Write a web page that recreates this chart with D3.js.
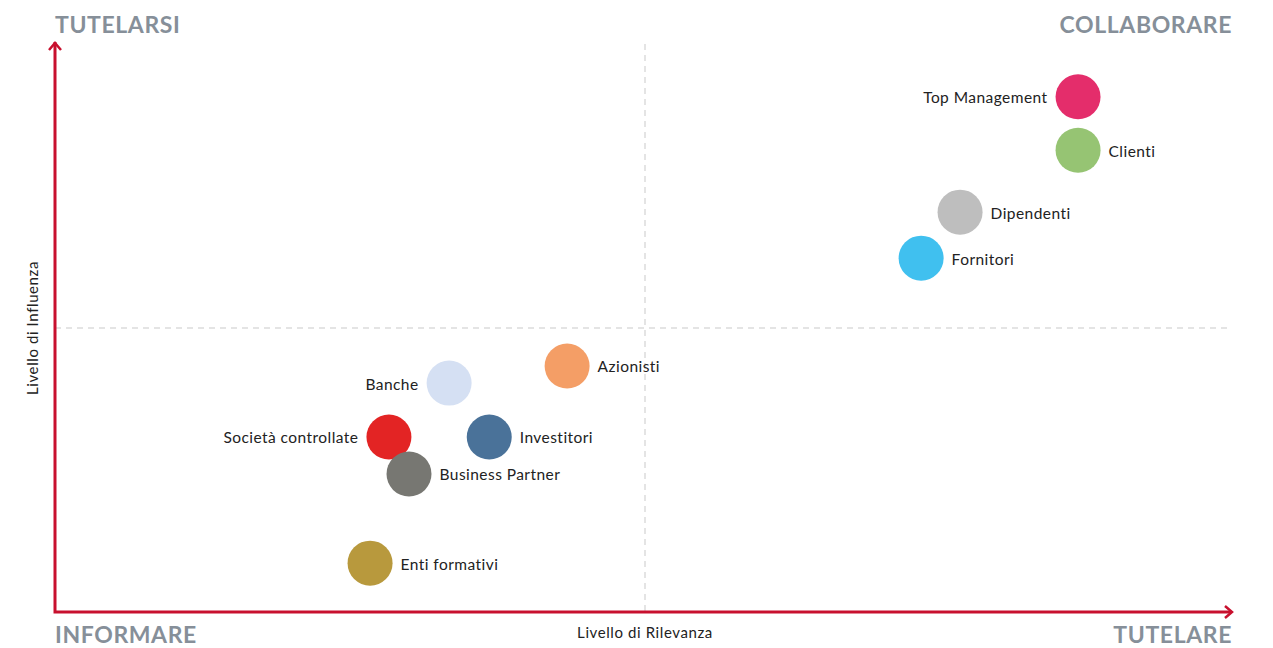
<!DOCTYPE html>
<html>
<head>
<meta charset="utf-8">
<script src="https://cdn.jsdelivr.net/npm/d3@7"></script>
<style>
  html, body { margin: 0; padding: 0; background: #fff; }
  svg { display: block; font-family: Lato, "Open Sans", sans-serif; }
</style>
</head>
<body>
<svg id="chart" width="1273" height="648"></svg>
<script>
// Stakeholder matrix: relevance (x) vs influence (y), 0–100 scale
const stakeholders = ["Top Management", "Clienti", "Dipendenti", "Fornitori", "Azionisti", "Banche", "Società controllate", "Investitori", "Business Partner", "Enti formativi"];
const relevance = [86.7, 86.7, 76.7, 73.4, 43.4, 33.4, 28.3, 36.8, 30.0, 26.7];
const influence = [90.7, 81.3, 70.4, 62.3, 43.3, 40.3, 30.8, 30.8, 24.3, 8.6];
const colors = ["#e42d6b", "#96c473", "#bebebe", "#40c0ef", "#f49e66", "#d5e0f3", "#e32424", "#4a7299", "#777772", "#b8993d"];
const labelSide = ["left", "right", "right", "right", "right", "left", "left", "right", "right", "right"];
const quadrantLabels = ["TUTELARSI", "COLLABORARE", "INFORMARE", "TUTELARE"];
const axisTitles = ["Livello di Rilevanza", "Livello di Influenza"];

const svg = d3.select("#chart");
const x = d3.scaleLinear().domain([0, 100]).range([55, 1235]);
const y = d3.scaleLinear().domain([0, 100]).range([612, 44]);
const red = "#c8102e";
const grey = "#868f99";
const r = 22.5;

// Quadrant dividers
svg.append("line")
  .attr("x1", x(50)).attr("x2", x(50))
  .attr("y1", y(100)).attr("y2", y(0))
  .attr("stroke", "#c9c9c9").attr("stroke-width", 1).attr("stroke-dasharray", "6,5");
svg.append("line")
  .attr("x1", x(0)).attr("x2", x(99.6))
  .attr("y1", y(50)).attr("y2", y(50))
  .attr("stroke", "#c9c9c9").attr("stroke-width", 1).attr("stroke-dasharray", "6,5");

// Axes with open arrowheads
const axes = svg.append("g").attr("fill", "none").attr("stroke", red).attr("stroke-width", 3);
axes.append("path")
  .attr("d", `M${x(0)},${y(100) - 2} L${x(0)},${y(0)} L${x(100) - 4},${y(0)}`);
axes.append("path")
  .attr("stroke-width", 2.5)
  .attr("d", `M${x(0) - 6},${y(100) + 6} L${x(0)},${y(100) - 1} L${x(0) + 6},${y(100) + 6}`);
axes.append("path")
  .attr("stroke-width", 2.5)
  .attr("d", `M${x(100) - 10},${y(0) - 6} L${x(100) - 3},${y(0)} L${x(100) - 10},${y(0) + 6}`);

// Quadrant names
const qStyle = sel => sel.attr("fill", grey).attr("font-size", 23).attr("font-weight", 700).attr("letter-spacing", 0.6);
svg.append("text").text(quadrantLabels[0]).attr("x", 55).attr("y", 33).call(qStyle);
svg.append("text").text(quadrantLabels[1]).attr("x", 1232).attr("y", 33).attr("text-anchor", "end").call(qStyle);
svg.append("text").text(quadrantLabels[2]).attr("x", 55).attr("y", 643).call(qStyle);
svg.append("text").text(quadrantLabels[3]).attr("x", 1232).attr("y", 643).attr("text-anchor", "end").call(qStyle);

// Axis titles
svg.append("text").text(axisTitles[0])
  .attr("x", x(50)).attr("y", 638).attr("text-anchor", "middle")
  .attr("font-size", 15).attr("letter-spacing", 0.6).attr("fill", "#222");
svg.append("text").text(axisTitles[1])
  .attr("transform", `translate(38,${y(50)}) rotate(-90)`)
  .attr("text-anchor", "middle")
  .attr("font-size", 15).attr("letter-spacing", 0.6).attr("fill", "#222");

// Stakeholder bubbles
const data = stakeholders.map((name, i) => ({ name, rx: relevance[i], iy: influence[i], color: colors[i], side: labelSide[i] }));
const g = svg.append("g");
g.selectAll("circle").data(data).join("circle")
  .attr("cx", d => x(d.rx)).attr("cy", d => y(d.iy)).attr("r", r)
  .attr("fill", d => d.color);
g.selectAll("text").data(data).join("text")
  .attr("x", d => d.side === "left" ? x(d.rx) - r - 8 : x(d.rx) + r + 8)
  .attr("y", d => y(d.iy) + 1)
  .attr("dy", "0.35em")
  .attr("text-anchor", d => d.side === "left" ? "end" : "start")
  .attr("font-size", 15.5).attr("letter-spacing", 0.45).attr("fill", "#222")
  .text(d => d.name);
</script>
</body>
</html>
